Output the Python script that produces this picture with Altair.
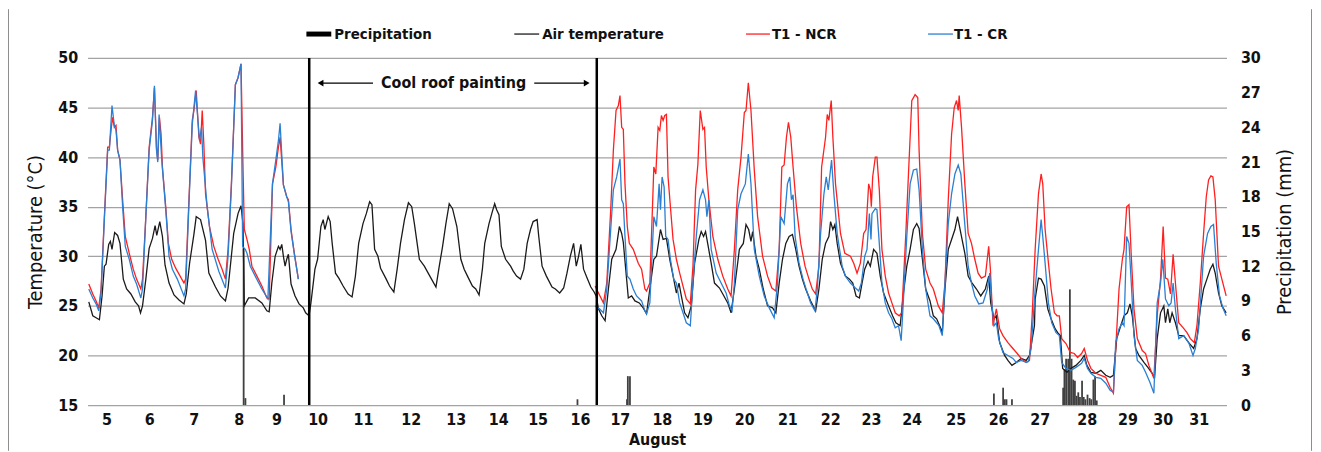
import altair as alt
import pandas as pd

# ---------------- data ----------------
# time axis "t": day of August (fractional), hourly readings digitised
AIR = [
 (5.079,25.4),(5.174,24.0),(5.253,23.8),(5.332,23.6),(5.395,26.0),(5.450,29.0),(5.490,29.2),(5.553,31.2),
 (5.593,31.5),(5.632,30.7),(5.695,32.4),(5.766,32.1),(5.822,31.3),(5.901,27.7),(5.980,26.7),(6.082,26.2),
 (6.185,25.4),(6.264,25.0),(6.311,24.3),(6.359,25.0),(6.438,27.7),(6.517,30.8),(6.596,31.8),(6.659,33.1),
 (6.698,32.1),(6.770,33.5),(6.833,32.0),(6.896,29.1),(6.991,27.3),(7.109,26.1),(7.228,25.6),(7.346,25.2),
 (7.401,26.2),(7.480,29.3),(7.583,32.2),(7.638,34.0),(7.741,33.7),(7.860,31.6),(7.939,28.3),(8.097,26.9),
 (8.215,26.0),(8.334,25.5),(8.397,26.8),(8.531,32.3),(8.634,34.3),(8.705,35.1),(8.752,33.3),(8.784,25.0),
 (8.886,25.8),(9.044,25.8),(9.202,25.3),(9.321,24.5),(9.376,24.4),(9.439,27.3),(9.518,30.0),(9.597,31.0),
 (9.636,30.7),(9.676,31.2),(9.715,30.0),(9.755,29.0),(9.794,29.7),(9.834,30.2),(9.897,27.2),(9.992,26.0),
 (10.087,25.2),(10.189,24.8),(10.245,24.3),(10.324,24.0),(10.371,25.3),(10.466,28.7),(10.529,29.7),(10.608,33.0),
 (10.663,33.7),(10.703,32.7),(10.782,34.0),(10.829,33.5),(10.877,31.3),(10.956,28.3),(11.035,27.8),(11.137,27.0),
 (11.256,26.2),(11.351,25.9),(11.430,28.0),(11.508,31.3),(11.611,33.3),(11.690,34.3),(11.769,35.5),(11.824,35.2),
 (11.888,30.7),(11.967,30.0),(12.030,28.8),(12.164,27.7),(12.243,27.0),(12.346,26.4),(12.425,28.7),(12.504,31.3),
 (12.599,33.7),(12.693,35.4),(12.772,35.0),(12.835,33.3),(12.954,29.7),(13.072,29.0),(13.230,27.8),(13.349,26.9),
 (13.428,29.0),(13.507,31.0),(13.586,33.3),(13.665,35.3),(13.744,34.8),(13.847,33.0),(13.942,29.7),(14.021,28.7),
 (14.100,28.0),(14.218,27.0),(14.297,26.7),(14.376,26.1),(14.455,28.7),(14.511,31.3),(14.613,33.3),(14.692,34.5),
 (14.748,35.3),(14.795,34.7),(14.850,34.2),(14.906,31.0),(15.008,29.7),(15.127,29.0),(15.190,28.5),(15.269,28.0),
 (15.364,27.7),(15.443,28.7),(15.522,31.3),(15.601,32.7),(15.664,33.5),(15.759,33.7),(15.798,32.0),(15.877,29.0),
 (15.980,28.0),(16.114,26.9),(16.193,26.7),(16.296,26.3),(16.391,26.8),(16.470,28.3),(16.549,30.0),(16.628,31.3),
 (16.691,29.0),(16.746,30.0),(16.801,31.2),(16.865,28.7),(16.959,27.7),(17.038,26.9),(17.117,26.4),(17.165,26.0),
 (17.220,24.7),(17.299,24.0),(17.378,23.5),(17.457,26.7),(17.536,29.7),(17.639,30.7),(17.718,33.0),(17.773,32.3),
 (17.812,31.4),(17.891,27.7),(17.931,25.8),(18.010,26.0),(18.089,25.5),(18.192,25.3),(18.286,24.8),(18.365,24.2),
 (18.444,26.7),(18.539,29.7),(18.602,30.0),(18.697,32.7),(18.760,31.7),(18.839,31.8),(18.918,29.7),(19.013,27.7),
 (19.076,26.3),(19.139,27.3),(19.194,26.0),(19.273,24.3),(19.352,23.8),(19.431,25.0),(19.510,29.3),(19.613,31.7),
 (19.668,32.5),(19.724,32.0),(19.771,32.5),(19.826,31.2),(19.905,29.3),(19.984,27.3),(20.103,26.8),(20.182,26.2),
 (20.300,25.3),(20.379,24.3),(20.458,26.7),(20.577,30.7),(20.671,31.3),(20.735,33.2),(20.798,32.7),(20.853,31.5),
 (20.893,32.5),(20.972,30.0),(21.051,28.7),(21.145,26.7),(21.248,25.0),(21.367,24.8),(21.446,24.3),(21.525,27.3),
 (21.604,29.7),(21.683,31.3),(21.762,32.0),(21.841,32.2),(21.920,30.7),(21.998,29.0),(22.078,27.7),(22.156,26.7),
 (22.275,25.5),(22.393,24.5),(22.472,26.7),(22.551,29.7),(22.630,31.3),(22.709,32.0),(22.749,33.5),(22.804,32.7),
 (22.852,33.2),(22.907,31.3),(22.986,29.3),(23.104,28.0),(23.199,27.7),(23.278,27.3),(23.357,26.0),(23.436,25.8),
 (23.499,27.3),(23.562,28.7),(23.641,29.5),(23.696,29.0),(23.775,30.7),(23.854,30.3),(23.933,28.0),(24.012,26.3),
 (24.131,25.0),(24.226,24.0),(24.305,23.3),(24.407,23.0),(24.486,26.3),(24.565,29.0),(24.644,30.7),(24.723,32.7),
 (24.802,33.3),(24.858,32.8),(24.937,29.7),(25.015,26.7),(25.118,25.5),(25.197,24.0),(25.276,23.7),(25.379,22.7),
 (25.410,22.2),(25.474,26.7),(25.553,30.7),(25.632,31.7),(25.711,32.7),(25.774,34.0),(25.853,32.3),(25.948,30.3),
 (26.027,28.0),(26.121,27.3),(26.224,26.7),(26.327,26.0),(26.437,26.7),(26.516,28.0),(26.564,25.3),(26.643,23.7),
 (26.698,24.0),(26.777,21.3),(26.895,20.0),(26.974,19.5),(27.069,19.0),(27.172,19.3),(27.290,19.7),(27.409,19.5),
 (27.488,20.0),(27.606,23.0),(27.623,25.7),(27.702,27.8),(27.765,27.7),(27.844,27.0),(27.923,24.7),(28.002,23.7),
 (28.097,22.7),(28.160,22.3),(28.223,22.0),(28.278,18.7),(28.381,18.3),(28.476,18.7),(28.594,19.0),(28.713,19.5),
 (28.792,20.0),(28.855,19.0),(28.950,18.3),(29.068,18.2),(29.187,18.5),(29.305,18.0),(29.408,17.8),(29.487,18.0),
 (29.566,21.7),(29.661,23.0),(29.740,24.0),(29.819,24.3),(29.882,25.2),(29.937,24.0),(30.016,20.7),(30.095,20.0),
 (30.214,19.3),(30.308,18.8),(30.411,18.2),(30.466,17.7),(30.530,21.7),(30.609,24.3),(30.688,25.0),(30.727,23.3),
 (30.782,24.7),(30.830,23.3),(30.885,24.3),(30.964,23.3),(31.043,22.0),(31.161,22.0),(31.280,21.3),(31.398,20.7),
 (31.477,21.7),(31.556,24.7),(31.635,26.7),(31.714,27.7),(31.793,28.7),(31.857,29.2),(31.912,28.3),(31.991,26.3),
 (32.070,25.0),(32.173,24.3),
]

NCR_BEFORE = [
 (5.079,27.2),(5.174,26.2),(5.253,25.5),(5.316,24.8),(5.371,26.7),(5.450,34.0),(5.529,41.0),(5.569,41.0),
 (5.616,43.0),(5.648,44.0),(5.687,43.0),(5.727,43.2),(5.766,40.7),(5.822,39.7),(5.885,35.7),(5.948,32.0),
 (6.043,30.3),(6.138,28.7),(6.217,27.7),(6.319,26.7),(6.359,27.7),(6.438,34.0),(6.517,41.0),(6.596,44.0),
 (6.643,47.0),(6.691,41.0),(6.722,39.7),(6.762,44.0),(6.801,42.3),(6.833,39.0),(6.912,35.0),(6.975,31.3),
 (7.054,29.7),(7.149,28.8),(7.228,28.2),(7.346,27.3),(7.386,27.7),(7.465,35.7),(7.544,43.7),(7.583,44.7),
 (7.638,46.7),(7.702,42.0),(7.741,41.3),(7.781,44.7),(7.820,41.3),(7.860,36.3),(7.954,33.0),(8.057,31.0),
 (8.160,29.7),(8.255,28.7),(8.334,27.7),(8.397,30.7),(8.476,37.3),(8.571,47.3),(8.634,48.0),(8.705,49.4),
 (8.752,39.0),(8.784,32.7),(8.847,31.7),(8.902,30.7),(8.965,29.0),(9.084,28.0),(9.202,27.0),(9.321,25.8),
 (9.376,25.7),(9.455,37.3),(9.534,39.0),(9.597,41.0),(9.636,42.0),(9.715,37.2),(9.794,36.0),(9.834,35.7),
 (9.897,32.7),(9.976,30.3),(10.071,27.7),
]
NCR_AFTER = [
 (17.141,27.0),(17.220,26.3),(17.339,25.3),(17.418,27.3),(17.512,34.7),(17.575,40.7),(17.639,44.7),(17.694,45.2),
 (17.733,46.2),(17.773,43.0),(17.812,42.8),(17.852,37.3),(17.907,33.0),(17.955,31.3),(18.049,30.7),(18.168,29.3),
 (18.247,28.7),(18.326,26.7),(18.365,26.5),(18.444,27.3),(18.507,35.0),(18.539,39.0),(18.586,38.3),(18.641,43.0),
 (18.681,42.7),(18.720,44.2),(18.760,43.7),(18.799,44.2),(18.839,44.3),(18.878,38.0),(18.934,35.0),(18.997,31.7),
 (19.076,29.7),(19.155,28.3),(19.234,27.0),(19.313,25.7),(19.408,25.2),(19.471,29.0),(19.534,36.7),(19.589,39.3),
 (19.645,44.7),(19.708,42.8),(19.747,43.0),(19.787,39.0),(19.850,35.7),(19.945,32.0),(20.063,29.7),(20.182,28.0),
 (20.300,26.7),(20.379,26.0),(20.458,30.7),(20.537,36.7),(20.616,40.0),(20.695,44.5),(20.735,44.7),(20.790,47.5),
 (20.853,44.7),(20.932,38.7),(21.011,34.0),(21.130,30.0),(21.248,28.0),(21.351,26.8),(21.446,26.5),(21.525,30.7),
 (21.588,39.0),(21.643,39.2),(21.698,42.0),(21.746,43.5),(21.801,42.0),(21.856,39.0),(21.935,35.0),(22.038,31.3),
 (22.141,29.0),(22.235,27.7),(22.314,26.7),(22.393,26.2),(22.472,29.0),(22.536,39.0),(22.630,42.0),(22.670,44.3),
 (22.709,43.7),(22.765,45.7),(22.804,42.0),(22.867,37.3),(22.986,32.3),(23.089,30.3),(23.222,30.0),(23.301,29.3),
 (23.380,28.3),(23.459,29.3),(23.538,32.3),(23.594,32.7),(23.657,37.3),(23.696,36.7),(23.720,35.0),(23.752,38.0),
 (23.815,40.0),(23.854,40.0),(23.910,36.7),(23.973,30.7),(24.052,28.0),(24.131,26.3),(24.210,25.3),(24.289,24.3),
 (24.384,24.0),(24.447,24.3),(24.542,32.3),(24.605,38.3),(24.684,45.7),(24.763,46.3),(24.826,46.0),(24.858,40.7),
 (24.937,32.3),(25.015,28.7),(25.118,27.3),(25.197,26.7),(25.316,25.0),(25.410,24.3),(25.474,27.3),(25.553,35.7),
 (25.632,42.3),(25.695,45.0),(25.750,45.7),(25.790,44.7),(25.813,46.2),(25.869,43.0),(25.948,37.3),(26.027,32.3),
 (26.106,31.3),(26.185,29.7),(26.264,28.3),(26.343,27.8),(26.437,28.0),(26.516,31.0),(26.556,28.7),(26.619,23.0),
 (26.698,24.7),(26.777,22.7),(26.856,22.0),(26.974,21.3),(27.093,20.7),(27.196,20.2),(27.290,19.7),(27.409,19.3),
 (27.488,19.5),(27.551,24.0),(27.623,30.7),(27.702,36.3),(27.765,38.3),(27.804,37.3),(27.860,32.7),(27.923,30.0),
 (28.002,26.7),(28.081,24.3),(28.144,24.0),(28.199,24.0),(28.255,21.7),(28.357,21.2),(28.460,20.3),(28.555,20.2),
 (28.634,19.8),(28.729,20.2),(28.792,20.7),(28.871,19.5),(28.950,18.7),(29.068,18.2),(29.187,18.0),(29.305,17.8),
 (29.408,16.8),(29.487,16.2),(29.542,20.7),(29.621,26.7),(29.700,29.7),(29.740,30.7),(29.803,35.0),(29.858,35.2),
 (29.913,30.0),(29.977,24.7),(30.056,21.7),(30.174,20.5),(30.253,20.2),(30.332,19.0),(30.451,17.7),(30.530,24.0),
 (30.609,27.7),(30.672,33.0),(30.727,27.8),(30.782,27.7),(30.846,26.2),(30.909,30.2),(30.964,27.3),(31.043,23.3),
 (31.146,22.8),(31.240,22.3),(31.319,21.7),(31.414,21.3),(31.477,23.0),(31.556,27.3),(31.635,32.3),(31.699,36.0),
 (31.754,37.7),(31.809,38.1),(31.857,38.0),(31.912,35.7),(31.991,29.0),(32.070,27.7),(32.173,26.0),
]

CR_BEFORE = [
 (5.079,26.7),(5.174,25.8),(5.253,25.2),(5.316,24.5),(5.371,26.3),(5.450,33.7),(5.529,40.7),(5.569,40.7),
 (5.632,45.2),(5.687,43.2),(5.727,42.7),(5.766,40.7),(5.822,39.7),(5.885,35.0),(5.948,31.0),(6.043,29.7),
 (6.138,28.0),(6.217,27.2),(6.319,25.8),(6.359,26.7),(6.438,34.0),(6.517,40.7),(6.596,43.7),(6.643,47.2),
 (6.691,40.7),(6.722,39.5),(6.754,44.3),(6.817,39.7),(6.912,34.7),(6.991,30.0),(7.070,28.7),(7.188,27.7),
 (7.346,26.0),(7.386,26.7),(7.465,35.3),(7.544,43.3),(7.623,46.7),(7.717,41.7),(7.765,43.0),(7.796,40.0),
 (7.899,35.0),(8.018,30.7),(8.176,28.5),(8.334,26.8),(8.397,30.0),(8.476,37.0),(8.571,47.3),(8.634,48.0),
 (8.705,49.4),(8.744,31.0),(8.807,30.7),(8.847,30.3),(8.926,29.0),(9.044,28.0),(9.202,26.7),(9.345,25.7),
 (9.455,37.3),(9.534,39.7),(9.597,41.7),(9.636,43.4),(9.715,37.2),(9.794,36.0),(9.834,35.5),(9.897,32.5),
 (9.976,30.2),(10.071,27.7),
]
CR_AFTER = [
 (17.141,25.0),(17.244,24.7),(17.339,24.3),(17.418,26.7),(17.512,32.7),(17.575,36.7),(17.654,38.0),(17.733,39.8),
 (17.773,35.7),(17.812,35.3),(17.852,32.0),(17.907,28.0),(17.970,27.7),(18.049,26.7),(18.128,26.0),(18.247,25.5),
 (18.326,24.5),(18.365,24.2),(18.444,25.3),(18.539,34.0),(18.602,33.0),(18.665,37.3),(18.697,34.7),(18.736,38.0),
 (18.784,37.0),(18.823,32.0),(18.878,31.7),(18.934,29.7),(19.013,27.7),(19.076,27.3),(19.155,25.3),(19.234,24.3),
 (19.313,23.3),(19.408,23.0),(19.471,27.3),(19.550,32.0),(19.629,35.7),(19.708,36.7),(19.771,35.7),(19.803,34.0),
 (19.850,35.7),(19.905,30.7),(20.024,28.3),(20.142,27.3),(20.261,26.3),(20.340,25.0),(20.403,24.5),(20.458,27.3),
 (20.537,34.7),(20.616,36.3),(20.719,37.3),(20.790,40.3),(20.853,37.3),(20.932,30.7),(21.051,28.0),(21.169,26.0),
 (21.288,24.8),(21.406,23.8),(21.485,27.3),(21.564,34.0),(21.643,33.3),(21.722,37.3),(21.777,38.0),(21.817,35.7),
 (21.856,36.2),(21.904,32.0),(21.998,29.3),(22.093,27.7),(22.196,26.3),(22.275,25.3),(22.378,24.5),(22.433,26.7),
 (22.512,32.3),(22.591,36.3),(22.646,38.0),(22.694,36.7),(22.773,39.7),(22.828,36.3),(22.907,32.3),(23.025,29.0),
 (23.104,28.0),(23.222,27.3),(23.341,26.8),(23.420,26.5),(23.483,27.3),(23.562,30.0),(23.617,30.7),(23.673,34.3),
 (23.712,31.7),(23.736,34.3),(23.815,34.8),(23.854,34.7),(23.910,31.3),(23.973,27.3),(24.052,25.3),(24.131,24.3),
 (24.210,23.7),(24.289,22.8),(24.368,23.0),(24.431,21.5),(24.486,25.7),(24.565,32.0),(24.644,37.3),(24.723,38.7),
 (24.802,38.8),(24.858,36.7),(24.937,30.7),(25.015,26.7),(25.118,24.0),(25.197,23.7),(25.276,23.3),(25.331,23.0),
 (25.410,22.0),(25.474,27.3),(25.553,33.3),(25.632,36.3),(25.711,38.3),(25.790,39.2),(25.853,38.3),(25.932,34.0),
 (26.027,29.0),(26.106,27.3),(26.185,26.0),(26.279,25.2),(26.382,25.3),(26.485,26.7),(26.540,28.3),(26.580,25.7),
 (26.643,23.0),(26.698,23.3),(26.753,21.7),(26.856,20.3),(26.974,20.0),(27.093,19.7),(27.172,19.3),(27.290,19.5),
 (27.409,19.3),(27.464,19.4),(27.527,20.7),(27.623,26.7),(27.702,30.7),(27.765,33.7),(27.804,32.0),(27.860,29.3),
 (27.939,25.3),(28.018,23.3),(28.120,22.3),(28.199,22.0),(28.255,19.3),(28.357,18.7),(28.476,18.5),(28.594,18.8),
 (28.729,19.2),(28.792,19.7),(28.871,18.7),(28.950,18.2),(29.068,17.8),(29.187,17.7),(29.305,17.2),(29.408,16.5),
 (29.487,16.3),(29.542,21.3),(29.621,22.7),(29.700,23.3),(29.740,23.0),(29.803,32.0),(29.858,31.3),(29.913,27.3),
 (29.977,22.0),(30.056,19.5),(30.174,19.0),(30.253,18.3),(30.356,17.3),(30.451,16.2),(30.530,25.3),(30.609,27.3),
 (30.664,29.7),(30.727,25.7),(30.806,25.0),(30.861,25.3),(30.909,27.3),(30.964,24.7),(31.043,21.7),(31.161,22.0),
 (31.280,21.3),(31.383,20.0),(31.438,20.7),(31.517,22.7),(31.635,30.0),(31.730,32.3),(31.809,33.0),(31.872,33.2),
 (31.936,29.3),(32.015,26.0),(32.094,24.8),(32.173,24.0),
]

PRECIP = [
 (8.768,13.5),(8.810,0.6),(9.730,0.9),(16.720,0.5),(17.900,0.5),(17.920,2.5),(17.970,2.5),
 (26.640,1.0),(26.860,1.5),(26.900,0.5),(26.940,0.5),(27.070,0.5),
 (28.29,1.5),(28.32,3.1),(28.36,4.0),(28.41,4.0),(28.45,10.0),(28.49,4.0),(28.53,2.2),(28.57,2.1),
 (28.61,0.8),(28.65,1.1),(28.69,0.7),(28.74,2.1),(28.78,0.7),(28.82,0.5),(28.87,0.9),(28.92,0.6),
 (28.96,0.5),(29.01,2.2),(29.05,2.5),(29.09,0.4),
]

DAY_LABEL_POS = [5.50, 6.52, 7.58, 8.65, 9.55, 10.53, 11.61, 12.75, 13.82, 14.83, 15.77, 16.78, 17.73,
                 18.73, 19.70, 20.69, 21.72, 22.74, 23.71, 24.68, 25.73, 26.74, 27.73, 28.85, 29.82,
                 30.66, 31.52]
PAINTING_LINES = [10.33, 17.18]
TEMP_TICKS = [15, 20, 25, 30, 35, 40, 45, 50]
PRECIP_TICKS = [0, 3, 6, 9, 12, 15, 18, 21, 24, 27, 30]

# ---------------- chart ----------------
FONT = "Liberation Sans Narrow, DejaVu Sans Condensed, Arial Narrow, sans-serif"
W, H = 1145, 349
X_DOMAIN = [5.05, 32.18]


def frame(rows, seg):
    return pd.DataFrame({"t": [r[0] for r in rows], "v": [r[1] for r in rows], "seg": seg})


air_df = frame(AIR, "a")
ncr_df = pd.concat([frame(NCR_BEFORE, "a"), frame(NCR_AFTER, "b")])
cr_df = pd.concat([frame(CR_BEFORE, "a"), frame(CR_AFTER, "b")])
pr_df = pd.DataFrame({"t": [p[0] for p in PRECIP], "mm": [p[1] for p in PRECIP]})
vl_df = pd.DataFrame({"t": PAINTING_LINES})
one = pd.DataFrame({"k": [0]})

x_axis = alt.Axis(values=DAY_LABEL_POS, labelExpr="floor(datum.value)", title="August",
                  grid=False, ticks=False, domain=False, labelFlush=False, labelOverlap=False,
                  labelFont=FONT, labelFontSize=16, labelFontWeight="bold", labelColor="#111111",
                  labelPadding=7, titleFont=FONT, titleFontSize=16, titleFontWeight="bold",
                  titleColor="#111111", titlePadding=4)
x_scale = alt.Scale(domain=X_DOMAIN, nice=False, zero=False, padding=0)


def X():
    return alt.X("t:Q", scale=x_scale, axis=x_axis)


t_scale = alt.Scale(domain=[15, 50], nice=False, zero=False)
t_axis = alt.Axis(values=TEMP_TICKS, title="Temperature (°C)", grid=True, gridColor="#a3a3a3",
                  gridWidth=1.3, ticks=False, domain=False, labelFont=FONT, labelFontSize=16,
                  labelFontWeight="bold", labelColor="#111111", labelPadding=10,
                  titleFont=FONT, titleFontSize=20, titleFontWeight="normal", titleColor="#111111",
                  titlePadding=12)


def Y():
    return alt.Y("v:Q", scale=t_scale, axis=t_axis)


def line(df, color):
    return alt.Chart(df).mark_line(color=color, strokeWidth=1.3).encode(
        x=X(), y=Y(), detail="seg:N", order="t:Q")


air_line = line(air_df, "#1a1a1a")
ncr_line = line(ncr_df, "#ff1f1f")
cr_line = line(cr_df, "#2b7fd3")

vlines = alt.Chart(vl_df).mark_rule(color="black", strokeWidth=2.5).encode(
    x=X(), y=alt.datum(50, scale=t_scale), y2=alt.datum(15))

ARROW_Y = 47.46
arrow_left = alt.Chart(one).mark_rule(color="black", strokeWidth=1.2).encode(
    x=alt.datum(11.85), x2=alt.datum(10.60), y=alt.datum(ARROW_Y))
arrow_right = alt.Chart(one).mark_rule(color="black", strokeWidth=1.2).encode(
    x=alt.datum(15.69), x2=alt.datum(16.94), y=alt.datum(ARROW_Y))
head_left = alt.Chart(one).mark_point(shape="triangle-left", filled=True, color="black", size=45, opacity=1).encode(
    x=alt.datum(10.60), y=alt.datum(ARROW_Y))
head_right = alt.Chart(one).mark_point(shape="triangle-right", filled=True, color="black", size=45, opacity=1).encode(
    x=alt.datum(16.94), y=alt.datum(ARROW_Y))
label = alt.Chart(one).mark_text(font=FONT, fontSize=16, fontWeight="bold", color="#111111").encode(
    x=alt.datum(13.77), y=alt.datum(ARROW_Y), text=alt.value("Cool roof painting"))

# legend (drawn above the plot area)
LEG_Y = -24


def leg_line(x1, x2, color, width):
    return alt.Chart(one).mark_rule(color=color, strokeWidth=width).encode(
        x=alt.value(x1), x2=alt.value(x2), y=alt.value(LEG_Y))


def leg_text(x, txt):
    return alt.Chart(one).mark_text(font=FONT, fontSize=15, fontWeight="bold", color="#111111",
                                    align="left", baseline="middle").encode(
        x=alt.value(x), y=alt.value(LEG_Y), text=alt.value(txt))


legend = [
    leg_line(220, 245, "black", 5), leg_text(248, "Precipitation"),
    leg_line(429, 454, "#1a1a1a", 1.3), leg_text(457, "Air temperature"),
    leg_line(662, 686, "#ff1f1f", 1.3), leg_text(688, "T1 - NCR"),
    leg_line(845, 870, "#2b7fd3", 1.3), leg_text(871, "T1 - CR"),
]

border = [
    alt.Chart(one).mark_rule(color="#8c8c8c", strokeWidth=1).encode(
        x=alt.value(-79.5), y=alt.value(-49), y2=alt.value(H + 46)),
    alt.Chart(one).mark_rule(color="#8c8c8c", strokeWidth=1).encode(
        x=alt.value(W + 85.5), y=alt.value(-49), y2=alt.value(H + 46)),
]

temp_group = alt.layer(air_line, ncr_line, cr_line, vlines, arrow_left, arrow_right,
                       head_left, head_right, label, *legend, *border)

precip = alt.Chart(pr_df).mark_bar(color="#404040", size=1.8).encode(
    x=X(),
    y=alt.Y("mm:Q", scale=alt.Scale(domain=[0, 30], nice=False),
            axis=alt.Axis(orient="right", values=PRECIP_TICKS, title="Precipitation (mm)", grid=False,
                          ticks=False, domain=False, labelFont=FONT, labelFontSize=16,
                          labelFontWeight="bold", labelColor="#111111", labelPadding=14,
                          titleFont=FONT, titleFontSize=20, titleFontWeight="normal",
                          titleColor="#111111", titleAngle=270, titleX=58, titleY=H / 2,
                          titleAlign="center", titleBaseline="middle")),
)

chart = alt.layer(precip, temp_group).resolve_scale(y="independent").properties(
    width=W, height=H,
    autosize=alt.AutoSizeParams(type="none"),
    padding={"left": 80, "top": 49, "right": 87, "bottom": 46},
    background="white",
).configure_view(strokeWidth=0)

chart.save("out.html", embed_options={"renderer": "svg", "actions": False})
